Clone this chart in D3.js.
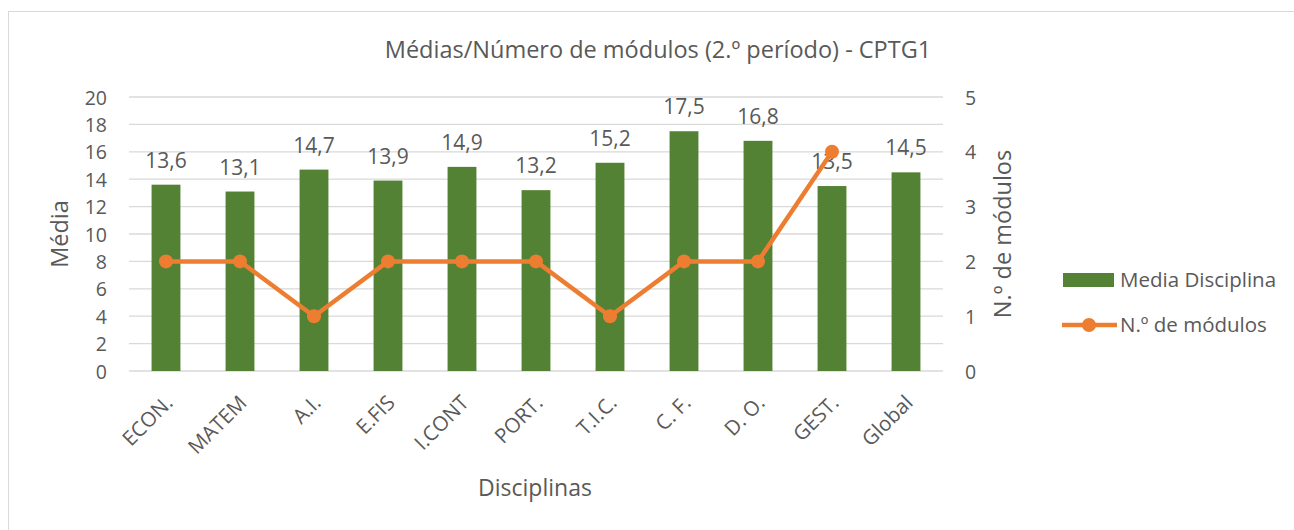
<!DOCTYPE html>
<html lang="pt">
<head>
<meta charset="UTF-8" />
<title>Médias/Número de módulos (2.º período) - CPTG1</title>
<script src="https://cdn.jsdelivr.net/npm/d3@7"></script>
<style>
  body { margin: 0; background: #fff; }
  svg text { font-family: "Open Sans", "Noto Sans", sans-serif; fill: #595959; }
</style>
</head>
<body>
<div id="chart"></div>
<script>
// data
const disciplinas = ["ECON.", "MATEM", "A.I.", "E.FIS", "I.CONT", "PORT.", "T.I.C.", "C. F.", "D. O.", "GEST.", "Global"];
const medias = [13.6, 13.1, 14.7, 13.9, 14.9, 13.2, 15.2, 17.5, 16.8, 13.5, 14.5];
const modulos = [2, 2, 1, 2, 2, 2, 1, 2, 2, 4, null];
const mediaTicks = [0, 2, 4, 6, 8, 10, 12, 14, 16, 18, 20];
const moduloTicks = [0, 1, 2, 3, 4, 5];

const w = 1294, h = 530;
const plotLeft = 129, plotRight = 943, plotTop = 97, plotBottom = 371;
const green = "#548235", orange = "#ED7D31", grid = "#d9d9d9";

const svg = d3.select("#chart").append("svg")
  .attr("width", w)
  .attr("height", h);

// chart border (only left/top visible in the crop)
svg.append("rect")
  .attr("x", 8.5).attr("y", 11.5)
  .attr("width", 1400).attr("height", 700)
  .attr("fill", "none")
  .attr("stroke", "#d9d9d9");

const x = d3.scaleBand(disciplinas, [plotLeft, plotRight]).paddingInner(0.61).paddingOuter(0.305);
const y = d3.scaleLinear([0, 20], [plotBottom, plotTop]);
const y2 = d3.scaleLinear([0, 5], [plotBottom, plotTop]);

// gridlines
svg.append("g")
  .selectAll("line")
  .data(mediaTicks)
  .join("line")
  .attr("x1", plotLeft).attr("x2", plotRight)
  .attr("y1", d => y(d)).attr("y2", d => y(d))
  .attr("stroke", grid)
  .attr("stroke-width", 1.3);

// left axis
const yAxis = svg.append("g")
  .attr("transform", "translate(" + (plotLeft - 22) + ",0)")
  .call(d3.axisLeft(y).tickValues(mediaTicks).tickSize(0).tickPadding(0));
yAxis.select(".domain").remove();
yAxis.selectAll("text").style("font-size", "19.5px").attr("fill", "#595959").attr("dy", "0.36em");

// right axis
const y2Axis = svg.append("g")
  .attr("transform", "translate(" + (plotRight + 22) + ",0)")
  .call(d3.axisRight(y2).tickValues(moduloTicks).tickFormat(d3.format("d")).tickSize(0).tickPadding(0));
y2Axis.select(".domain").remove();
y2Axis.selectAll("text").style("font-size", "19.5px").attr("fill", "#595959").attr("dy", "0.36em");

// bars
svg.append("g")
  .selectAll("rect")
  .data(medias)
  .join("rect")
  .attr("x", (d, i) => x(disciplinas[i]))
  .attr("y", d => y(d))
  .attr("width", x.bandwidth())
  .attr("height", d => y(0) - y(d))
  .attr("fill", green);

// bar value labels
svg.append("g")
  .selectAll("text")
  .data(medias)
  .join("text")
  .attr("x", (d, i) => x(disciplinas[i]) + x.bandwidth() / 2)
  .attr("y", d => y(d) - 17)
  .attr("text-anchor", "middle")
  .style("font-size", "21px")
  .text(d => String(d).replace(".", ","));

// line
const pts = modulos.map((d, i) => ({ k: disciplinas[i], v: d })).filter(d => d.v !== null);
const line = d3.line()
  .x(d => x(d.k) + x.bandwidth() / 2)
  .y(d => y2(d.v));
svg.append("path")
  .datum(pts)
  .attr("d", line)
  .attr("fill", "none")
  .attr("stroke", orange)
  .attr("stroke-width", 4.5)
  .attr("stroke-linejoin", "round");
svg.append("g")
  .selectAll("circle")
  .data(pts)
  .join("circle")
  .attr("cx", d => x(d.k) + x.bandwidth() / 2)
  .attr("cy", d => y2(d.v))
  .attr("r", 7)
  .attr("fill", orange);

// category labels, rotated
svg.append("g")
  .selectAll("text")
  .data(disciplinas)
  .join("text")
  .attr("transform", d => "translate(" + (x(d) + x.bandwidth() / 2 + 3) + "," + (plotBottom + 28) + ") rotate(-45)")
  .attr("text-anchor", "end")
  .attr("dy", "0.35em")
  .style("font-size", "20.5px")
  .text(d => d);

// titles
svg.append("text")
  .attr("x", 658).attr("y", 58)
  .attr("text-anchor", "middle")
  .style("font-size", "23.5px")
  .text("Médias/Número de módulos (2.º período) - CPTG1");

svg.append("text")
  .attr("x", 535).attr("y", 496)
  .attr("text-anchor", "middle")
  .style("font-size", "23px")
  .text("Disciplinas");

svg.append("text")
  .attr("transform", "translate(68,234) rotate(-90)")
  .attr("text-anchor", "middle")
  .style("font-size", "23.5px")
  .text("Média");

svg.append("text")
  .attr("transform", "translate(1011,234) rotate(-90)")
  .attr("text-anchor", "middle")
  .style("font-size", "23.5px")
  .text("N.º de módulos");

// legend
const lg = svg.append("g");
lg.append("rect")
  .attr("x", 1063).attr("y", 273)
  .attr("width", 51).attr("height", 14)
  .attr("fill", green);
lg.append("text")
  .attr("x", 1120).attr("y", 280)
  .attr("dy", "0.35em")
  .style("font-size", "20.5px")
  .text("Media Disciplina");
lg.append("line")
  .attr("x1", 1062).attr("x2", 1117)
  .attr("y1", 325).attr("y2", 325)
  .attr("stroke", orange)
  .attr("stroke-width", 4.5);
lg.append("circle")
  .attr("cx", 1089).attr("cy", 325)
  .attr("r", 7)
  .attr("fill", orange);
lg.append("text")
  .attr("x", 1120).attr("y", 325)
  .attr("dy", "0.35em")
  .style("font-size", "20.5px")
  .text("N.º de módulos");
</script>
</body>
</html>
